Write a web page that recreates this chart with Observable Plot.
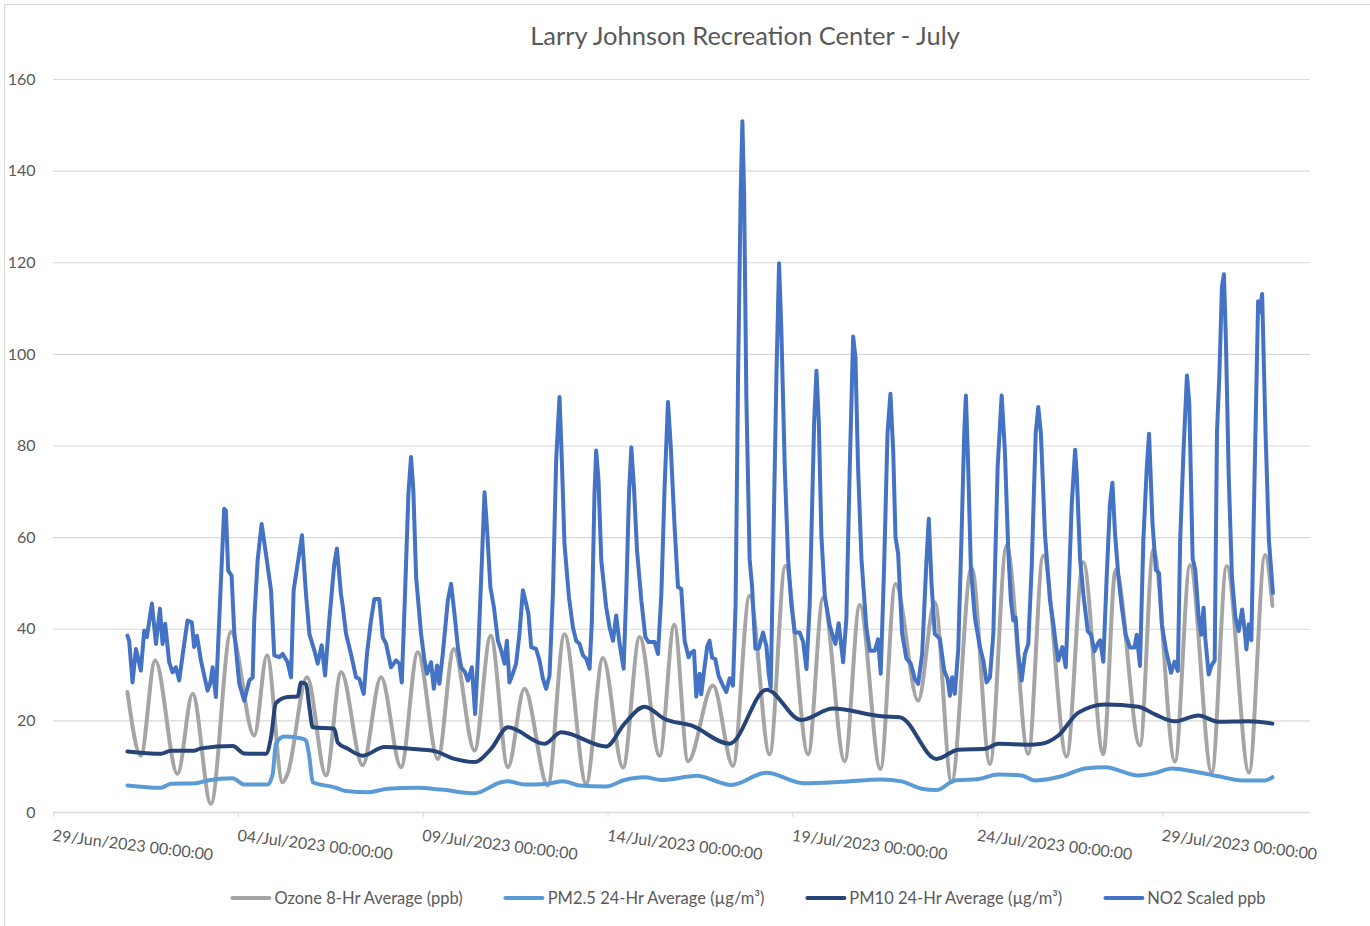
<!DOCTYPE html>
<html>
<head>
<meta charset="utf-8">
<script src="https://cdn.jsdelivr.net/npm/d3@7"></script>
<script src="https://cdn.jsdelivr.net/npm/@observablehq/plot@0.6"></script>
<style>
  html, body { margin: 0; padding: 0; background: #fff; }
  #wrap { position: relative; width: 1370px; height: 926px; overflow: hidden; font-family: Lato, "Open Sans", sans-serif; color: #595959; }
  #frame { position: absolute; left: 4px; top: 4px; width: 1400px; height: 960px; border-left: 1.5px solid #d9d9d9; border-top: 1.5px solid #d9d9d9; }
  #title { position: absolute; left: 0; width: 1490px; top: 23px; text-align: center; font-size: 25.5px; line-height: 25.5px; color: #595959; }
  #chart { position: absolute; left: 0; top: 0; }
  #legend { position: absolute; top: 888px; left: 748px; transform: translateX(-50%); display: flex; align-items: center; height: 20px; gap: 41px; white-space: nowrap; font-size: 16.5px; color: #595959; }
  .item { display: flex; align-items: center; gap: 3px; }
  .sw { width: 41px; height: 4px; border-radius: 2px; }
</style>
</head>
<body>
<div id="wrap">
  <div id="frame"></div>
  <div id="chart"></div>
  <div id="title">Larry Johnson Recreation Center - July</div>
  <div id="legend"></div>
</div>
<script>
// ---- Data (hours since 01/Jul/2023 00:00, value) ----
const seriesNames = ["Ozone 8-Hr Average (ppb)", "PM2.5 24-Hr Average (µg/m³)", "PM10 24-Hr Average (µg/m³)", "NO2 Scaled ppb"];
const seriesColors = ["#A5A5A5", "#5B9BD5", "#264478", "#4472C4"];

const yTicks = [0, 20, 40, 60, 80, 100, 120, 140, 160];
const xTickLabels = ["2023-06-29", "2023-07-04", "2023-07-09", "2023-07-14", "2023-07-19", "2023-07-24", "2023-07-29"];
const xDomain = ["2023-06-29", "2023-08-02"];

const ozone = [[0,26.3],[8.7,12.4],[18,33.2],[32.5,8.4],[42.3,25.9],[54.2,1.9],[67.2,39.4],[82.3,16.8],[90.6,34.3],[100.7,6.6],[104,8.5],[116.6,29.5],[128.9,8.1],[138.7,30.6],[152.7,10.3],[164.6,29.5],[177.6,9.9],[188.5,35],[201.5,11.7],[211.9,35.7],[225.3,13.5],[235.8,38.6],[247,9.9],[257.7,27],[272.9,5.9],[283.7,38.9],[297.8,6.3],[308.7,33.7],[321.7,9.8],[332.5,38.3],[345.5,12.4],[355,41],[363.9,11.2],[380.1,27.7],[393.1,10.2],[403.9,47.3],[416.9,12.7],[427.1,53.8],[441.9,12.7],[451.6,46.8],[465.6,11.2],[475.4,45.3],[488.8,9.5],[498.6,49.9],[513.3,24.4],[524.1,45.9],[535,6.6],[548,53.5],[559.9,10.6],[570.7,58.3],[584.8,12.8],[594.5,56.1],[609.7,12.2],[620.5,54.6],[633.5,12.7],[641.5,53],[657.3,14.6],[666,57.4],[680,11.1],[689.8,54],[703.9,8.7],[713.6,53.8],[728.1,8.7],[738.5,56.2],[743.3,45.1]];

const pm25 = [[0,5.9],[21.7,5.4],[28.2,6.3],[44.4,6.4],[52,7.0],[68.3,7.5],[75.8,6.1],[91,6.1],[94.3,8.4],[96.4,15.0],[101.8,16.6],[113.8,16.1],[115.9,15.7],[118.1,12.1],[120.3,6.6],[134.3,5.5],[141.9,4.7],[156,4.4],[169,5.2],[188.5,5.4],[203.6,5.0],[225.3,4.2],[242.6,6.6],[247,6.8],[257.7,6.1],[272.9,6.3],[282.7,6.8],[293.5,5.9],[310.8,5.7],[322.7,7.1],[335.7,7.7],[346.5,7.1],[366,7.9],[369.3,8.0],[392.1,6.0],[414.8,8.7],[438.6,6.4],[463.5,6.7],[489.5,7.2],[502.5,6.8],[515.5,5.2],[525.3,4.9],[537.1,7.0],[552.3,7.3],[565.3,8.3],[580.5,8.1],[589.1,7.0],[606.5,7.9],[621.6,9.6],[634.6,9.9],[656.3,8.1],[667.1,8.6],[678,9.6],[693.1,8.9],[708.3,7.9],[723.4,7.0],[738.5,7.0],[743.3,7.7]];

const pm10 = [[0,13.3],[21.7,12.8],[28.2,13.5],[43.3,13.5],[47.7,14.0],[68.3,14.5],[75.8,12.9],[89.9,12.8],[93.2,16.4],[96.4,23.9],[104,25.2],[110.5,25.3],[112.7,28.4],[115.9,28.0],[118.1,23.0],[120.3,18.6],[134.3,18.3],[136.5,15.3],[143,13.9],[152.7,12.4],[166.8,14.3],[184.1,13.9],[199.3,13.4],[212.3,11.7],[225.3,11.0],[236.1,13.9],[247,18.6],[270.7,15.0],[281.6,17.5],[310.8,14.4],[322.7,19.4],[335.7,23.1],[348.7,20.4],[366,19.0],[390.9,15.0],[414.8,26.8],[437.5,20.2],[458.1,22.7],[489.5,21.0],[501.4,20.8],[525.3,11.7],[539.4,13.7],[556.7,13.9],[565.3,15.0],[584.8,14.8],[593.4,15.0],[604.3,16.8],[617.3,21.8],[634.6,23.6],[656.3,23.1],[667.1,21.4],[680,19.9],[695.2,21.2],[708.3,19.8],[727.8,19.9],[743.3,19.4]];

const no2 = [[0,38.6],[1.1,37.5],[3.3,28.4],[5.5,35.7],[8.7,31.0],[10.9,39.7],[12.6,38.3],[15.9,45.6],[18.5,36.8],[21.1,44.5],[22.8,36.8],[24.5,41.2],[27.1,32.8],[29.3,30.6],[31.4,31.7],[33.6,28.8],[35.8,34.3],[39,41.9],[41.8,41.5],[43.3,36.1],[45.1,38.6],[47.7,33.2],[52,26.6],[53.7,28.1],[55.3,31.7],[57.4,25.2],[60.7,50.6],[62.8,66.3],[63.9,65.9],[65.4,52.8],[67.6,51.7],[69.3,39.7],[72.6,28.1],[75.8,24.4],[79.1,28.8],[81.3,29.5],[82.3,41.9],[84.5,55.0],[87.1,63.0],[89.3,57.9],[93.2,48.5],[95.3,34.3],[98.6,33.9],[100.8,34.6],[104,32.8],[106.2,29.5],[107.9,48.5],[110.5,54.3],[113.3,60.5],[115.9,47.7],[118.1,39.0],[121.3,35.4],[123.5,32.5],[126.1,36.5],[128.3,29.9],[131,41.9],[134.3,54.3],[136,57.6],[138.6,47.7],[139.7,45.2],[141.9,39.0],[145.1,34.6],[148.4,29.5],[150.5,29.2],[153.4,25.9],[155.5,34.6],[158.1,41.9],[160.3,46.6],[163.5,46.6],[165.7,38.3],[167.9,36.8],[171.1,31.7],[174.4,33.2],[176.5,32.5],[178.1,28.4],[180.2,47.7],[182.4,69.6],[184.1,77.6],[185.6,70.3],[187.4,51.4],[190.6,39.0],[192.8,33.2],[194.5,30.3],[197.1,32.8],[198.9,27.0],[201,32.1],[202.5,28.1],[204.7,34.6],[208,46.3],[210.1,49.9],[212.3,43.4],[214.5,36.1],[216.6,31.7],[219.2,30.6],[221,28.8],[223.6,31.7],[225.7,21.5],[227.9,36.8],[230.1,55.0],[231.8,69.9],[233.5,61.6],[235.6,49.2],[237.9,44.8],[240.5,37.5],[242.6,35.4],[244.8,32.5],[246.3,37.5],[248,28.4],[250.2,30.3],[252.3,32.5],[254.5,39.0],[256.7,48.5],[258.8,45.6],[260.3,43.4],[262.1,36.1],[265.3,35.7],[267.5,33.2],[269.7,29.2],[271.8,27.0],[274,29.9],[276.2,47.7],[278.3,76.8],[280.5,90.7],[282,76.8],[283.7,58.7],[286.6,47.0],[289.2,40.4],[291.3,37.5],[293.5,36.8],[295.7,34.3],[297.8,33.6],[300,31.4],[301.5,41.9],[303.2,69.6],[304.3,79.0],[305.8,72.5],[307.6,55.0],[310.8,44.8],[313,40.4],[315.2,37.5],[317.3,43.0],[319.5,36.8],[322.1,31.4],[323.8,47.7],[325.6,69.6],[327.1,79.7],[328.8,71.0],[330.8,57.2],[333.6,46.3],[336.2,38.3],[338.3,37.2],[342.2,37.2],[344.4,34.6],[346.6,47.7],[348.7,71.0],[350.9,89.6],[352.6,80.5],[355.2,62.3],[357.4,49.2],[359.5,48.8],[361.7,37.5],[364.3,33.9],[365.6,34.8],[367.8,35.3],[369.3,25.3],[371.4,30.3],[372.5,25.8],[374.3,30.8],[376.4,36.3],[377.9,37.5],[379.5,33.8],[381.6,33.5],[383.8,29.8],[386.6,27.7],[388.8,26.3],[390.9,29.3],[393.1,27.7],[394.8,45.3],[396.4,95.3],[398.1,135.4],[399.2,150.9],[400.3,135.4],[401.8,90.3],[403.9,55.3],[405.5,49.3],[407.6,35.8],[409.8,35.8],[412.6,39.3],[414.8,36.3],[416.3,30.3],[417.6,27.2],[421.3,95.3],[423,119.9],[424.5,105.3],[426.7,75.3],[428.9,55.3],[431,45.3],[433.2,39.3],[436.4,39.3],[438.6,37.3],[440.8,31.3],[442.9,45.3],[445.8,85.3],[447.3,96.4],[448.8,85.3],[450.5,60.3],[452.7,47.3],[455.9,40.8],[458.1,38.3],[459.6,36.8],[461.7,41.3],[464.6,32.8],[466.7,42.3],[468.9,75.3],[471.1,103.9],[472.6,99.3],[474.3,75.3],[476.5,55.3],[479.7,40.3],[481.9,35.3],[485.1,35.3],[487.3,37.8],[489,30.3],[491.2,53.5],[493.4,82.7],[495.3,91.4],[497.1,79.0],[498.6,60.1],[500.3,56.5],[502.9,39.0],[505.7,33.6],[508.5,32.5],[511.1,29.2],[513.3,28.1],[515.9,34.6],[518.7,55.0],[520.2,64.1],[522,49.9],[524.1,39.0],[527.4,37.9],[530.2,31.0],[532.4,29.2],[533.9,25.5],[535.4,29.5],[537.1,25.9],[539.3,35.4],[541.5,60.8],[543.2,82.7],[544.3,91.0],[545.8,75.4],[547.5,53.5],[550.1,42.6],[553.4,36.1],[555.6,33.2],[557.7,28.4],[559.9,29.5],[562.1,39.0],[564.9,75.4],[567.5,91.0],[569.6,79.0],[571.8,57.2],[573.5,46.3],[575.1,41.9],[576.6,42.6],[578.3,34.6],[580.5,28.8],[582.6,34.6],[584.8,36.8],[587,53.5],[589.6,82.7],[591.3,88.5],[593,82.7],[595.6,60.8],[598.9,46.3],[601.1,41.2],[602.6,36.8],[604.3,33.2],[606.9,36.1],[609.1,31.7],[610.8,46.3],[613,67.3],[615.2,79.2],[616.3,73.6],[618.4,55.4],[620.6,47.5],[623.4,39.6],[625.5,38.8],[627.8,35.2],[629.9,36.8],[631.4,37.6],[633.5,32.9],[635.7,51.5],[637.8,67.3],[639.4,72.0],[641.1,60.9],[643.3,51.5],[645.4,45.1],[648,38.8],[650.8,36.0],[653.7,36.0],[655.2,38.8],[657.3,32.0],[659.5,59.4],[661.7,75.2],[663.2,82.7],[665.4,63.3],[667.6,53.0],[669.7,52.2],[671.5,41.1],[674.1,35.6],[677.5,30.5],[679.7,32.9],[681.9,30.9],[683.4,59.4],[685.6,79.2],[687.8,95.4],[689.3,89.4],[691.5,55.4],[693.2,53.0],[695.4,42.7],[697.1,38.8],[698.6,44.7],[699.7,38.0],[701.9,30.1],[703.6,32.0],[705.8,33.2],[707.3,83.1],[708.8,95.0],[710.5,114.8],[711.8,117.5],[713.1,102.9],[714.9,73.6],[717,51.5],[719.2,42.7],[721.4,39.6],[723.6,44.3],[725.3,39.6],[726.4,35.6],[727.9,41.1],[729.6,37.6],[731.8,75.2],[734,111.6],[735.1,109.2],[736.6,113.2],[738.8,83.1],[741,59.4],[743.6,47.9]];

// ---- Build ----
const T0 = Date.UTC(2023, 6, 1);
const rows = (arr) => arr.map(([h, v]) => ({date: new Date(T0 + h * 3600e3), value: v}));
const fmt = d3.utcFormat("%d/%b/%Y %H:%M:%S");
const xTicks = xTickLabels.map(s => new Date(s + "T00:00:00Z"));

const lineOpts = (color, curve) => ({x: "date", y: "value", stroke: color, strokeWidth: 4, curve, strokeLinejoin: "round", strokeLinecap: "round"});

const chart = Plot.plot({
  width: 1370,
  height: 880,
  marginLeft: 53,
  marginRight: 60,
  marginTop: 79,
  marginBottom: 68,
  style: {fontFamily: "Lato, 'Open Sans', sans-serif", background: "transparent", color: "#595959", overflow: "visible"},
  x: {type: "utc", domain: xDomain.map(s => new Date(s + "T00:00:00Z")), label: null},
  y: {domain: [0, 160], label: null},
  marks: [
    Plot.gridY(yTicks.filter(d => d > 0), {stroke: "#d9d9d9", strokeOpacity: 1, strokeWidth: 1.2}),
    Plot.ruleY([0], {stroke: "#d9d9d9", strokeWidth: 1.5}),
    Plot.axisY(yTicks, {tickSize: 0, tickPadding: 18, fill: "#595959", fontSize: 16, label: null}),
    Plot.axisX(xTicks, {tickFormat: fmt, tickRotate: 7, textAnchor: "start", lineAnchor: "top", tickSize: 5, tickPadding: 12, stroke: "#d9d9d9", fill: "#595959", fontSize: 16, label: null}),
    Plot.line(rows(ozone), lineOpts(seriesColors[0], "monotone-x")),
    Plot.line(rows(pm25), lineOpts(seriesColors[1], "monotone-x")),
    Plot.line(rows(pm10), lineOpts(seriesColors[2], "monotone-x")),
    Plot.line(rows(no2), lineOpts(seriesColors[3], "linear"))
  ]
});
document.getElementById("chart").appendChild(chart);

const legend = document.getElementById("legend");
seriesNames.forEach((name, i) => {
  const item = document.createElement("div");
  item.className = "item";
  const sw = document.createElement("div");
  sw.className = "sw";
  sw.style.background = seriesColors[i];
  const label = document.createElement("span");
  label.textContent = name;
  item.appendChild(sw);
  item.appendChild(label);
  legend.appendChild(item);
});
</script>
</body>
</html>
